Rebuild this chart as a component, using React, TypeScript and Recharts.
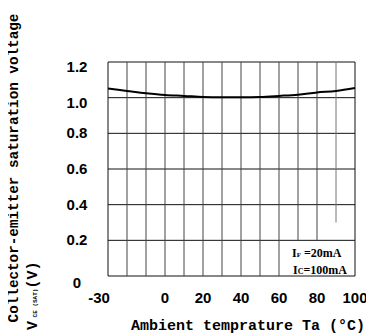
import { LineChart, Line, XAxis, YAxis, CartesianGrid, ReferenceLine, ReferenceArea, Label } from 'recharts'

// ambient temperature (C) and VCE(sat) (V)
const temps = [-30, -20, -10, 0, 10, 20, 30, 40, 50, 60, 70, 80, 90, 100]
const vceSat = [1.051, 1.038, 1.025, 1.015, 1.01, 1.004, 1.002, 1.002, 1.004, 1.01, 1.017, 1.029, 1.038, 1.054]

const xTicks = [-30, 0, 20, 40, 60, 80, 100]
const yTicks = [0, 0.2, 0.4, 0.6, 0.8, 1.0, 1.2]
const yTickLabels = ['0', '0.2', '0.4', '0.6', '0.8', '1.0', '1.2']

// vertical grid lines, and the value each one starts from (the note box cuts the last three)
const gridX = [-20, -10, 0, 10, 20, 30, 40, 50, 60, 70, 80, 90]
const gridFrom = [0, 0, 0, 0, 0, 0, 0, 0, 0, 0.2, 0.2, 0.3]

const data = temps.map((t, i) => ({ t, v: vceSat[i] }))

const tickFont = "'Liberation Sans', Arial, sans-serif"
const titleFont = "'Liberation Mono', 'Courier New', monospace"

const YTick = (props: any) => {
  const { x, y, payload } = props
  const i = yTicks.indexOf(payload.value)
  const dy = payload.value >= 1 ? 5 : payload.value === 0 ? 7 : 0
  return (
    <text x={x - 23} y={y + dy + 5} textAnchor="middle" fontFamily={tickFont} fontWeight="bold" fontSize={15} fill="#000">
      {i >= 0 ? yTickLabels[i] : payload.value}
    </text>
  )
}

const XTick = (props: any) => {
  const { x, y, payload } = props
  const dx = payload.value === -30 ? -9 : 0
  return (
    <text x={x + dx} y={y + 19} textAnchor="middle" fontFamily={tickFont} fontWeight="bold" fontSize={15} fill="#000">
      {payload.value}
    </text>
  )
}

const Titles = () => (
  <g fontFamily={titleFont} fontWeight="bold" fill="#000">
    <text x={240} y={322} textAnchor="middle" fontSize={15}>
      Ambient temprature Ta (°C)
    </text>
    <text x={10} y={160} textAnchor="middle" fontSize={14.3} transform="rotate(-90, 10, 160)">
      Collector-emitter saturation voltage
    </text>
    <text x={29} y={322} textAnchor="start" transform="rotate(-90, 29, 322)">
      <tspan fontSize={15}>V</tspan>
      <tspan fontSize={6}> CE (SAT)</tspan>
      <tspan fontSize={15}>(V)</tspan>
    </text>
  </g>
)

const Note = (props: any) => {
  const { x, y } = props.viewBox
  return (
    <g fontFamily="'Liberation Serif', serif" fontWeight="bold" fill="#000">
      <text x={x + 13} y={y + 17} fontSize={12}>
        I<tspan fontSize={7}>F</tspan> =20mA
      </text>
      <text x={x + 14} y={y + 34} fontSize={12}>
        I<tspan fontSize={8}>C</tspan>=100mA
      </text>
    </g>
  )
}

export default function App() {
  return (
    <LineChart width={366} height={328} data={data} margin={{ top: 54, right: 19, bottom: 30, left: 40 }}>
      <CartesianGrid vertical={false} stroke="#111" strokeOpacity={1} />
      <XAxis
        type="number"
        dataKey="t"
        domain={[-30, 100]}
        ticks={xTicks}
        axisLine={false}
        tickLine={false}
        tick={<XTick />}
        height={30}
        interval={0}
      >
        <Label content={<Titles />} />
      </XAxis>
      <YAxis
        domain={[0, 1.2]}
        ticks={yTicks}
        axisLine={false}
        tickLine={false}
        tick={<YTick />}
        width={60}
        interval={0}
      />
      {gridX.map((x, i) => (
        <ReferenceLine
          key={x}
          segment={[{ x, y: gridFrom[i] }, { x, y: 1.2 }]}
          stroke={x === 90 ? '#777' : '#444'}
          strokeWidth={1}
        />
      ))}
      <ReferenceLine x={-30} stroke="#111" />
      <ReferenceLine x={100} stroke="#111" />
      <ReferenceArea x1={60} x2={100} y1={0} y2={0.2} fill="none" stroke="none">
        <Label content={<Note />} />
      </ReferenceArea>
      <Line type="monotone" dataKey="v" stroke="#000" strokeWidth={2} dot={false} isAnimationActive={false} />
    </LineChart>
  )
}
